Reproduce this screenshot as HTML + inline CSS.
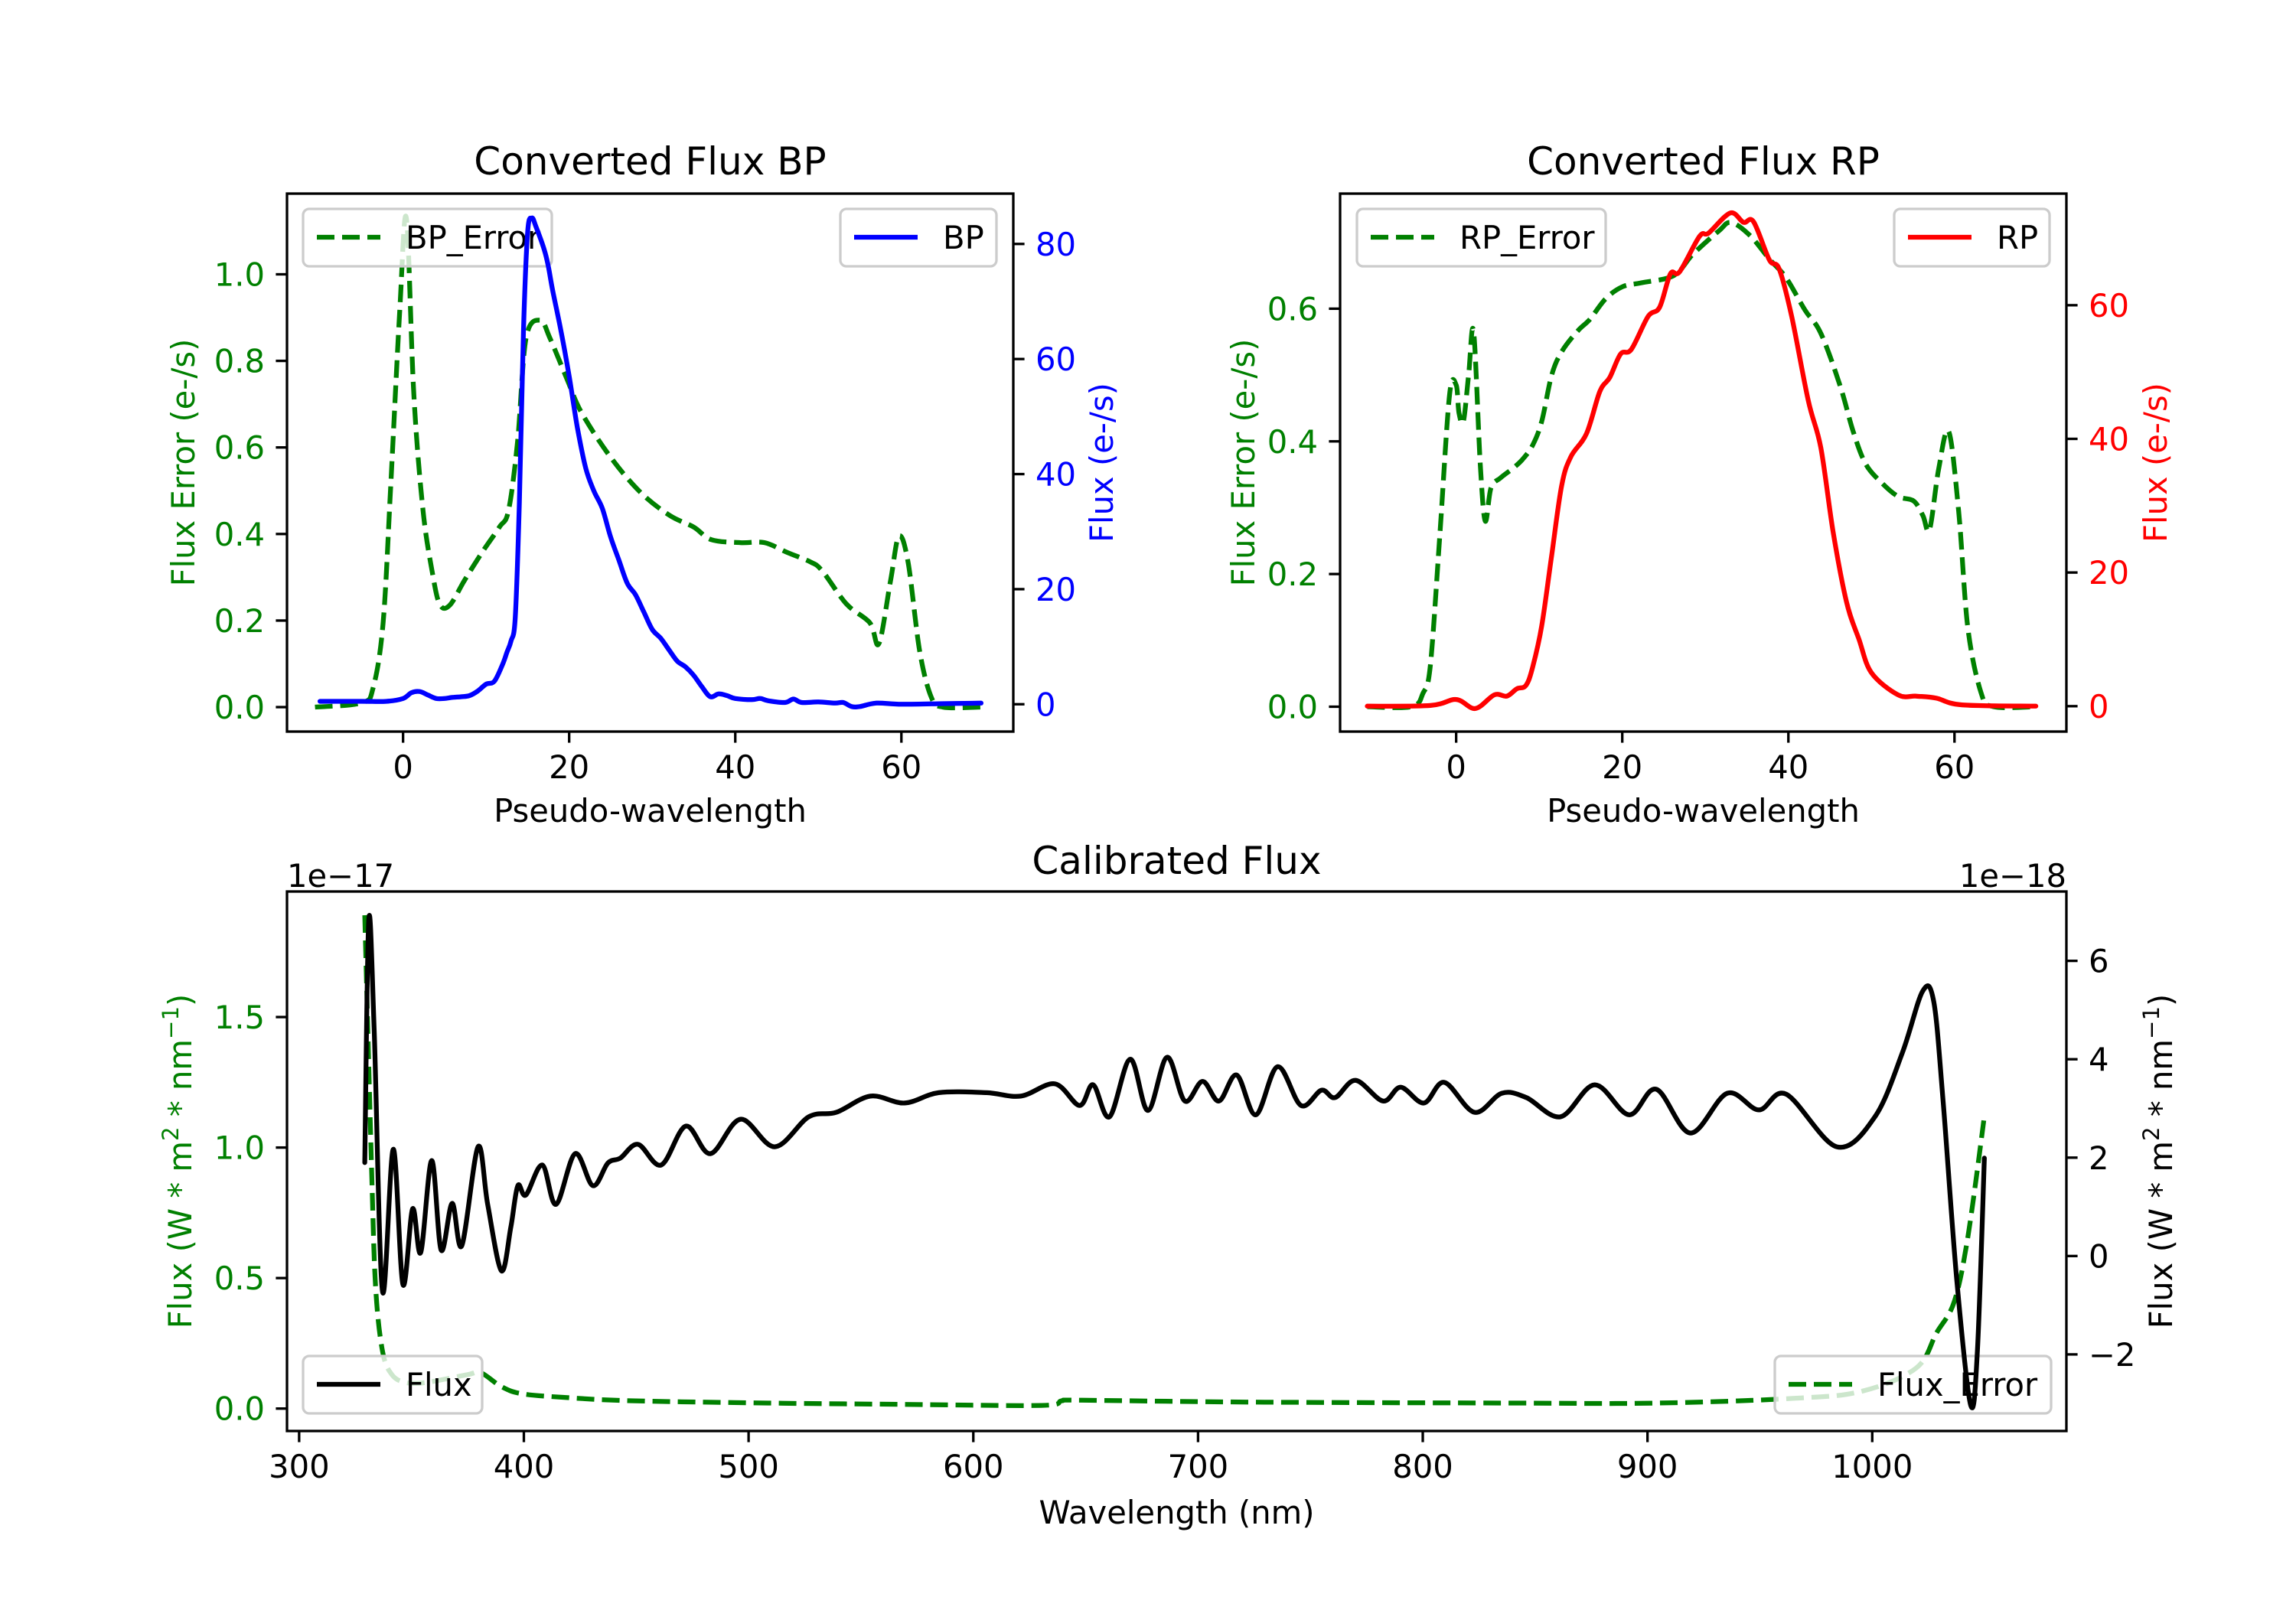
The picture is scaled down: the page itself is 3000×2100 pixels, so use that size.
<!DOCTYPE html>
<html><head><meta charset="utf-8"><style>
html,body{margin:0;padding:0;background:#fff}
svg{display:block}
text{font-family:"DejaVu Sans","Liberation Sans",sans-serif}
</style></head><body>
<svg id="fig" xmlns="http://www.w3.org/2000/svg" width="3000" height="2100" viewBox="0 0 3000 2100">
<rect width="3000" height="2100" fill="#fff"/>
</svg>
<script>
// ---------- BP panel data ----------
const bpX = [-10,-5,-2,0,1,2,3,4,5,6,7,8,9,10,11,12,12.5,13,13.5,14,14.5,15,15.5,16,17,17.5,18,19,20,21,22,23,24,25,26,27,28,29,30,31,32,33,34,35,36,37,38,39,40,42,43,44,46,47,48,50,52,53,54,55,57,60,65,69.6];
const bpFlux = [0.5,0.5,0.5,1,2,2.2,1.6,1,1,1.2,1.3,1.5,2.3,3.5,4,7,9,11,15,35,65,82,84.5,83,79,76,72,65,57,48,41,37,34,29,25,21,19,16,13,11.5,9.5,7.5,6.5,5,3,1.3,1.8,1.5,1,0.8,1,0.6,0.3,0.9,0.3,0.4,0.2,0.3,-0.4,-0.4,0.2,0,0.1,0.2];
const bpErrX = [-10.6,-5,-3.6,-2.4,-1.5,-0.4,0.4,1.3,2.4,3.5,4.4,5.6,7.4,9.5,11.6,12.7,13.8,14.8,16.5,17.7,19.8,21.5,25,28.6,32.1,35,37.1,40.6,43.5,46.3,49.1,50.5,53.4,56.2,57.3,58.7,59.7,60.8,62.2,63.6,65,69.6];
const bpErr = [0,0.01,0.045,0.195,0.507,0.916,1.13,0.72,0.455,0.314,0.238,0.235,0.293,0.357,0.416,0.455,0.616,0.852,0.894,0.852,0.755,0.68,0.577,0.496,0.443,0.416,0.387,0.38,0.38,0.357,0.335,0.314,0.238,0.195,0.147,0.293,0.395,0.335,0.13,0.023,0,0];
const bpLeftTicks = [0,0.2,0.4,0.6,0.8,1.0];
const bpLeftLabels = ["0.0","0.2","0.4","0.6","0.8","1.0"];
const bpRightTicks = [0,20,40,60,80];
const pxTicks = [0,20,40,60];

// ---------- RP panel data ----------
const rpX = [-10.7,-3.1,0,2.3,4.6,6.1,7.3,8.4,9.2,10.3,11.5,12.7,13.8,15.7,17.3,18.5,19.8,21.1,23.1,24.5,25.8,26.9,29.3,30.4,33,34.6,35.8,37.7,38.9,40.4,42.4,43.9,45.4,47,48.5,50,53.2,55.4,57.8,60.9,69.8];
const rpFlux = [0,0.1,1,-0.35,1.7,1.5,2.6,3.1,5.8,12,22.6,33,37.3,40.8,47.1,49.2,52.7,53.4,58.3,59.7,64.7,65,70.3,70.8,73.8,72.4,72.5,66.8,65.4,58.3,45.7,38.7,26,15.6,10,5,1.7,1.5,1.2,0.2,0];
const rpErrX = [-10.7,-5.4,-4,-3.1,-1.96,-0.8,0,0.34,0.87,1.5,2.1,2.9,3.5,4.2,5.35,6.9,8,9.2,10.3,11.5,12.7,14.6,16.1,18,20,22.3,26.2,28.5,31.6,33.1,35.4,37.7,39.7,42,43.9,46.2,47.8,49.3,51.2,53.2,55.1,56.2,57,58.1,59.3,60.5,61.6,63.2,64.7,69.8];
const rpErr = [0,0,0.02,0.063,0.26,0.47,0.485,0.443,0.43,0.5,0.566,0.366,0.28,0.33,0.345,0.36,0.373,0.394,0.43,0.5,0.535,0.566,0.584,0.615,0.633,0.639,0.65,0.682,0.717,0.73,0.71,0.675,0.647,0.598,0.563,0.485,0.415,0.366,0.338,0.317,0.31,0.288,0.267,0.359,0.415,0.295,0.12,0.021,0,0];
const rpLeftTicks = [0,0.2,0.4,0.6];
const rpLeftLabels = ["0.0","0.2","0.4","0.6"];
const rpRightTicks = [0,20,40,60];

// ---------- Calibrated panel data ----------
const calX = [329.2,331,333.4,337.1,341.9,346.2,350.5,354.1,359,363.2,368.1,372.4,379.6,383.9,390,394.2,397.3,400.9,408.2,414.3,422.8,430.7,437.4,442.9,450.8,461.1,472.1,483,496.4,511.6,526.8,539,554.2,569.4,584.6,605.9,621.1,636.3,647.3,653.3,660.6,669.8,677.7,686.2,694.1,702,709.3,717.2,725.7,735.4,745.8,754.9,761,770.1,782.3,790.2,800.5,809.6,823,835.2,846.1,861.3,876.5,891.8,903.9,919.1,935.5,949.5,961.7,984.2,1001.2,1013.4,1022.5,1027.4,1031.6,1037.7,1043.8,1046.8,1049.9];
const calFlux = [1.9,6.84,4.6,-0.72,2.17,-0.58,0.96,0.07,1.94,0.12,1.07,0.21,2.22,1.05,-0.3,0.59,1.43,1.24,1.85,1.05,2.08,1.43,1.89,1.99,2.27,1.85,2.64,2.08,2.78,2.22,2.83,2.92,3.25,3.11,3.32,3.32,3.25,3.5,3.06,3.48,2.83,4.0,2.96,4.04,3.15,3.55,3.15,3.68,2.87,3.85,3.06,3.37,3.22,3.57,3.15,3.43,3.11,3.53,2.92,3.31,3.22,2.83,3.48,2.87,3.39,2.5,3.31,2.97,3.29,2.22,2.83,4.13,5.39,5.16,3.11,-0.53,-3.03,-1.93,1.99];
const calErrX = [329.2,332.2,334,337.1,341.3,347.4,356.5,374.8,380.9,390,399.1,417.4,447.8,508.6,569.4,630.2,639.4,648.5,721.5,843.1,903.9,964.7,995.2,1019.5,1028.6,1036.5,1042.6,1049.9];
const calErr = [1.89,0.93,0.47,0.22,0.13,0.1,0.1,0.13,0.137,0.084,0.057,0.043,0.03,0.021,0.016,0.012,0.03,0.032,0.025,0.021,0.021,0.039,0.066,0.155,0.29,0.41,0.66,1.12];
const calLeftTicks = [0,0.5,1.0,1.5];
const calLeftLabels = ["0.0","0.5","1.0","1.5"];
const calRightTicks = [-2,0,2,4,6];
const calRightLabels = ["\u22122","0","2","4","6"];
const calXTicks = [300,400,500,600,700,800,900,1000];

const NS = "http://www.w3.org/2000/svg";
const svg = document.getElementById('fig');
const FS = 41.7;
function mk(tag, attrs, parent){ const e=document.createElementNS(NS,tag); for(const k in attrs) e.setAttribute(k,attrs[k]); (parent||svg).appendChild(e); return e; }
function scale(d0,d1,p0,p1){ return v => p0 + (v-d0)/(d1-d0)*(p1-p0); }

function smoothPath(P){
  let d='M'+P[0][0].toFixed(1)+','+P[0][1].toFixed(1);
  for(let i=0;i<P.length-1;i++){
    const p0=P[Math.max(0,i-1)], p1=P[i], p2=P[i+1], p3=P[Math.min(P.length-1,i+2)];
    const c1x=p1[0]+(p2[0]-p0[0])/6, c1y=p1[1]+(p2[1]-p0[1])/6;
    const c2x=p2[0]-(p3[0]-p1[0])/6, c2y=p2[1]-(p3[1]-p1[1])/6;
    d+=' C'+c1x.toFixed(1)+','+c1y.toFixed(1)+' '+c2x.toFixed(1)+','+c2y.toFixed(1)+' '+p2[0].toFixed(1)+','+p2[1].toFixed(1);
  }
  return d;
}
function drawLine(g, xs, ys, sx, sy, color, dashed, clipId){
  const P = xs.map((x,i)=>[sx(x), sy(ys[i])]);
  const attrs = {d:smoothPath(P), fill:'none', stroke:color, 'stroke-width':6.25, 'stroke-linejoin':'round', 'clip-path':'url(#'+clipId+')'};
  if(dashed) attrs['stroke-dasharray']='23 10'; else attrs['stroke-linecap']='round';
  return mk('path', attrs, g);
}
function legend(g, x, y, w, label, color, dashed){
  const lg = mk('g', {}, g);
  
  
  mk('rect',{x:x,y:y,width:w,height:75,rx:8,fill:'rgba(255,255,255,0.8)',stroke:'#cccccc','stroke-width':3.3},lg);
  const a={x1:x+18,x2:x+101,y1:y+37,y2:y+37,stroke:color,'stroke-width':6.25};
  if(dashed) a['stroke-dasharray']='23 10';
  mk('line',a,lg);
  const t = mk('text',{x:x+134,y:y+52,'font-size':FS,fill:'#000'},lg); t.textContent=label;
}
function yTicks(g, ticks, labels, sy, xAxis, side, color){
  ticks.forEach((v,i)=>{
    const y=sy(v);
    const dx = side==='left'? -14.6 : 14.6;
    mk('line',{x1:xAxis,x2:xAxis+dx,y1:y,y2:y,stroke:'#000','stroke-width':3.3},g);
    const t=mk('text',{x: side==='left'? xAxis-29 : xAxis+29, y:y+15,'font-size':FS,fill:color,'text-anchor': side==='left'?'end':'start'},g);
    t.textContent = labels[i];
  });
}
function xTicks(g, ticks, sx, yAxis){
  ticks.forEach(v=>{
    const x=sx(v);
    mk('line',{x1:x,x2:x,y1:yAxis,y2:yAxis+14.6,stroke:'#000','stroke-width':3.3},g);
    const t=mk('text',{x:x,y:yAxis+61,'font-size':FS,'text-anchor':'middle'},g); t.textContent=String(v);
  });
}
function vlabel(g, x, y, color, parts){
  const t=mk('text',{x:0,y:0,'font-size':FS,fill:color,'text-anchor':'middle',transform:'translate('+x+','+y+') rotate(-90)'},g);
  parts.forEach(p=>{ const s=mk('tspan',p.sup?{'baseline-shift':'super','font-size':FS*0.7}:{},t); s.textContent=p.t; });
  return t;
}
function clip(id,x0,y0,x1,y1){ const d=mk('defs',{}); const c=mk('clipPath',{id:id},d); mk('rect',{x:x0,y:y0,width:x1-x0,height:y1-y0},c); }

// ===== BP =====
(function(){
  const L=375,R=1324,T=253,B=956;
  const g=mk('g',{});  
  clip('cbp',L,T,R,B);
  const sx=scale(-13.975,73.475,L,R), syL=scale(-0.0565,1.1865,B,T), syR=scale(-4.75,88.75,B,T);
  const e=drawLine(g,bpErrX,bpErr,sx,syL,'#008000',true,'cbp');
   
  legend(g,396,273,325,'BP_Error','#008000',true);
  const f=drawLine(g,bpX,bpFlux,sx,syR,'#0000ff',false,'cbp');
   
  legend(g,1098,273,204,'BP','#0000ff',false);
  mk('rect',{x:L,y:T,width:R-L,height:B-T,fill:'none',stroke:'#000','stroke-width':3.3},g);
  yTicks(g,bpLeftTicks,bpLeftLabels,syL,L,'left','#008000');
  yTicks(g,bpRightTicks,bpRightTicks.map(String),syR,R,'right','#0000ff');
  xTicks(g,pxTicks,sx,B);
  const tt=mk('text',{x:(L+R)/2,y:228,'font-size':50,'text-anchor':'middle'},g); tt.textContent='Converted Flux BP';
  
  const xl=mk('text',{x:(L+R)/2,y:1074,'font-size':FS,'text-anchor':'middle'},g); xl.textContent='Pseudo-wavelength';
  vlabel(g,254,(T+B)/2,'#008000',[{t:'Flux Error (e-/s)'}]);
  vlabel(g,1454,(T+B)/2,'#0000ff',[{t:'Flux (e-/s)'}]);
})();

// ===== RP =====
(function(){
  const L=1751,R=2700,T=253,B=956;
  const g=mk('g',{});  
  clip('crp',L,T,R,B);
  const sx=scale(-13.975,73.475,L,R), syL=scale(-0.0375,0.7735,B,T), syR=scale(-3.8,76.7,B,T);
  const e=drawLine(g,rpErrX,rpErr,sx,syL,'#008000',true,'crp');
   
  legend(g,1773,273,325,'RP_Error','#008000',true);
  const f=drawLine(g,rpX,rpFlux,sx,syR,'#ff0000',false,'crp');
   
  legend(g,2475,273,203,'RP','#ff0000',false);
  mk('rect',{x:L,y:T,width:R-L,height:B-T,fill:'none',stroke:'#000','stroke-width':3.3},g);
  yTicks(g,rpLeftTicks,rpLeftLabels,syL,L,'left','#008000');
  yTicks(g,rpRightTicks,rpRightTicks.map(String),syR,R,'right','#ff0000');
  xTicks(g,pxTicks,sx,B);
  const tt=mk('text',{x:(L+R)/2,y:228,'font-size':50,'text-anchor':'middle'},g); tt.textContent='Converted Flux RP';
  
  const xl=mk('text',{x:(L+R)/2,y:1074,'font-size':FS,'text-anchor':'middle'},g); xl.textContent='Pseudo-wavelength';
  vlabel(g,1639,(T+B)/2,'#008000',[{t:'Flux Error (e-/s)'}]);
  vlabel(g,2831,(T+B)/2,'#ff0000',[{t:'Flux (e-/s)'}]);
})();

// ===== Calibrated =====
(function(){
  const L=375,R=2700,T=1165,B=1870;
  const g=mk('g',{});  
  clip('ccal',L,T,R,B);
  const sx=scale(294.6,1086.4,L,R), syL=scale(-0.0859,1.981,B,T), syR=scale(-3.557,7.41,B,T);
  const e=drawLine(g,calErrX,calErr,sx,syL,'#008000',true,'ccal');
   
  legend(g,2319,1772,361,'Flux_Error','#008000',true);
  const f=drawLine(g,calX,calFlux,sx,syR,'#000000',false,'ccal');
   
  legend(g,396,1772,234,'Flux','#000000',false);
  mk('rect',{x:L,y:T,width:R-L,height:B-T,fill:'none',stroke:'#000','stroke-width':3.3},g);
  yTicks(g,calLeftTicks,calLeftLabels,syL,L,'left','#008000');
  yTicks(g,calRightTicks,calRightLabels,syR,R,'right','#000');
  xTicks(g,calXTicks,sx,B);
  const tt=mk('text',{x:(L+R)/2,y:1142,'font-size':50,'text-anchor':'middle'},g); tt.textContent='Calibrated Flux';
  
  const o1=mk('text',{x:L,y:1159,'font-size':FS},g); o1.textContent='1e\u221217';
  const o2=mk('text',{x:R,y:1159,'font-size':FS,'text-anchor':'end'},g); o2.textContent='1e\u221218';
  const xl=mk('text',{x:(L+R)/2,y:1991,'font-size':FS,'text-anchor':'middle'},g); xl.textContent='Wavelength (nm)';
  vlabel(g,250,(T+B)/2,'#008000',[{t:'Flux (W * m'},{t:'2',sup:true},{t:' * nm'},{t:'\u22121',sup:true},{t:')'}]);
  vlabel(g,2838,(T+B)/2,'#000',[{t:'Flux (W * m'},{t:'2',sup:true},{t:' * nm'},{t:'\u22121',sup:true},{t:')'}]);
})();
</script>
</body></html>
